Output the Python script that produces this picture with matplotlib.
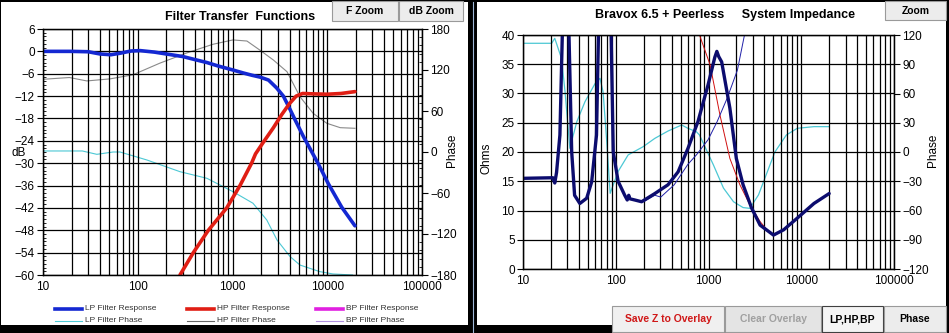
import matplotlib.pyplot as plt
import matplotlib.ticker as mticker
from matplotlib.patches import Rectangle
from matplotlib.lines import Line2D

plt.rcParams['font.family'] = ['Liberation Sans', 'DejaVu Sans']

# ---- left chart: filter transfer functions ----
lp_freq = [10, 20, 30, 40, 52, 65, 85, 106, 150, 200, 300, 400, 537, 700, 1010, 1300,
           1600, 1950, 2400, 2920, 3440, 3880, 4500, 5590, 8050, 10260, 14200, 19600]
lp_db = [0, 0, -0.1, -0.7, -0.9, -0.5, 0.1, 0.2, -0.2, -0.7, -1.4, -2.2, -3.0, -3.9, -5.0, -5.8,
         -6.4, -6.9, -7.7, -9.8, -12.0, -14.6, -18.0, -22.8, -30.2, -35.5, -41.8, -46.8]

hp_freq = [279, 386, 556, 869, 1200, 1590, 1750, 2100, 2700, 3300, 4000, 4700, 5500, 7000,
           10000, 14000, 19600]
hp_db = [-60, -54, -48, -42, -36, -30, -27.5, -24.5, -20.5, -17.0, -14.0, -12.0, -11.3, -11.4,
         -11.5, -11.3, -10.8]

lp_ph_freq = [10, 20, 26, 37, 55, 65, 125, 279, 537, 1010, 1645, 2300, 2950, 4050, 5150,
              8300, 11500, 18500]
lp_ph = [1.5, 1.5, 1.5, -3.4, 0, 0, -11.7, -28.8, -38.5, -58, -75, -99.5, -128.8, -153,
         -165.4, -175, -178.5, -180]

hp_ph_freq = [10, 19, 29, 51, 89, 171, 330, 620, 1010, 1420, 1950, 2700, 3760, 5150, 7100,
              9900, 13700, 19600]
hp_ph = [106.4, 109, 104, 107, 113, 130, 145, 157.6, 164, 162.4, 149, 134.6, 117.5, 81,
         56.6, 42, 35.6, 34.7]

# ---- right chart: system impedance ----
z_freq = [10, 21, 22, 23, 25, 27, 29, 30.8, 33.5, 36, 41, 48.6, 55, 62, 66, 72, 80, 88, 94,
          106, 125, 133, 138, 142, 160, 190, 264, 366, 470, 600, 770, 990, 1170, 1230, 1290,
          1387, 1700, 1995, 2360, 2920, 3600, 5020, 6460, 9060, 13700, 20000]
z_ohm = [15.5, 15.6, 14.7, 16.5, 22.9, 45, 60, 45, 20, 12.6, 11.2, 12.1, 14.9, 22.9, 45, 60,
         60, 45, 20, 15, 12.6, 11.8, 12.6, 12.0, 11.8, 11.5, 12.9, 14.4, 16.6, 20.6, 25.2,
         31.5, 36.2, 37.2, 36.3, 35.4, 27.5, 18.9, 14.4, 10.4, 7.5, 5.8, 6.7, 8.7, 11.2, 12.9]

zthin_freq = [200, 264, 306, 427, 600, 740, 990, 1240, 1590, 2050, 2400, 2600]
zthin_ohm = [11.5, 12.6, 12.3, 14.4, 17.9, 19.5, 22.1, 25.2, 29.2, 34.0, 39.4, 42]

zred_freq = [760, 800, 1040, 1330, 1700, 2180, 2790, 3600, 4580, 5200, 6460, 9060, 13700, 20000]
zred_ohm = [42, 40, 34.9, 26.3, 18.9, 14.4, 11.0, 8.1, 6.1, 5.8, 6.7, 8.7, 11.2, 12.9]

zph_freq = [10, 20.4, 22, 26, 28.4, 32, 38, 46.6, 60, 67.6, 73, 80, 87, 106, 136, 197, 264,
            366, 514, 600, 740, 800, 1130, 1450, 1860, 2360, 2790, 3460, 4320, 5200, 6900,
            9060, 13700, 20000]
zph_deg = [111.5, 111.5, 116.6, 96, 61.8, 3.8, 31, 51.6, 70.4, 75.6, 61.8, 10.6, -42.4, -20,
           -3, 5.4, 14, 21.5, 27.7, 24.3, 20.8, 17.4, -13.3, -37, -51, -57, -57.8, -44, -20,
           0, 17.4, 24.3, 26, 26]

W, H = 949, 333


def fx(x):
    return x / W


def fy(y):
    return 1 - y / H


def button(fig, x0, y0, x1, y1, text, color='black', fc='#ececec', ec='#9a9a9a'):
    fig.patches.append(Rectangle((fx(x0), fy(y1)), (x1 - x0) / W, (y1 - y0) / H,
                                 transform=fig.transFigure, facecolor=fc, edgecolor=ec,
                                 lw=0.8, zorder=2))
    fig.text(fx((x0 + x1) / 2), fy((y0 + y1) / 2), text, ha='center', va='center',
             fontsize=7.5, fontweight='bold', color=color, zorder=3)


def style_freq_axis(ax):
    ax.set_xscale('log')
    ax.set_xlim(10, 100000)
    ax.xaxis.set_major_locator(mticker.LogLocator(base=10))
    ax.xaxis.set_minor_locator(mticker.LogLocator(base=10, subs=range(2, 10)))
    ax.xaxis.set_major_formatter(mticker.FuncFormatter(lambda v, p: f'{v:.0f}'))
    ax.xaxis.set_minor_formatter(mticker.NullFormatter())
    ax.tick_params(axis='x', which='both', length=0, pad=4, labelsize=8.5)
    ax.xaxis.grid(True, which='both', color='black', lw=0.9)
    ax.yaxis.grid(True, which='major', color='black', lw=0.9)
    for s in ax.spines.values():
        s.set_color('black')
        s.set_linewidth(1.0)


fig = plt.figure(figsize=(W / 100, H / 100), dpi=100, facecolor='black')

# white panels and separator (behind the axes)
fig.patches.append(Rectangle((fx(1), fy(325)), 467 / W, 323 / H, transform=fig.transFigure,
                             facecolor='white', edgecolor='none', zorder=-2))
fig.patches.append(Rectangle((fx(477), fy(325)), 469 / W, 323 / H, transform=fig.transFigure,
                             facecolor='white', edgecolor='none', zorder=-2))
fig.lines.append(Line2D([fx(472.5), fx(472.5)], [fy(2), fy(333)], transform=fig.transFigure,
                        color='#9fb8d8', lw=0.8, zorder=-1))

# ---------- left chart ----------
ax1 = fig.add_axes([fx(43), fy(275), 379 / W, 246 / H])
ax1b = ax1.twinx()
ax1.set_zorder(ax1b.get_zorder() + 1)
ax1.patch.set_visible(False)
style_freq_axis(ax1)
ax1.set_ylim(-60, 6)
ax1.set_yticks(range(-60, 7, 6))
ax1.yaxis.set_minor_locator(mticker.MultipleLocator(1))
ax1.tick_params(axis='y', which='major', direction='out', length=4, labelsize=8.5, pad=2)
ax1.tick_params(axis='y', which='minor', direction='in', length=2)
ax1b.set_ylim(-180, 180)
ax1b.set_yticks(range(-180, 181, 60))
ax1b.yaxis.set_minor_locator(mticker.MultipleLocator(12))
ax1b.tick_params(axis='y', which='major', direction='out', length=4, labelsize=8.5, pad=2)
ax1b.tick_params(axis='y', which='minor', direction='in', length=2)

ax1b.plot(lp_ph_freq, lp_ph, color='#4cc8d4', lw=0.8)
ax1b.plot(hp_ph_freq, hp_ph, color='#8a8a8a', lw=0.8)
ax1.plot(lp_freq, lp_db, color='#1428d2', lw=2.6, solid_capstyle='round')
ax1.plot(hp_freq, hp_db, color='#e01e14', lw=2.6, solid_capstyle='round')

fig.text(fx(12), fy(153), 'dB', fontsize=8.5, ha='left', va='center')
fig.text(fx(452), fy(150), 'Phase', fontsize=8.5, rotation=90, ha='center', va='center')
fig.text(fx(240), fy(17), 'Filter Transfer  Functions', fontsize=9, fontweight='bold',
         ha='center', va='center')
button(fig, 332, 1, 398, 21, 'F Zoom')
button(fig, 399, 1, 463, 21, 'dB Zoom')

# legend
legend_items = [
    (55, 309, '#1428d2', 2.6, 'LP Filter Response'),
    (187, 309, '#e01e14', 2.6, 'HP Filter Response'),
    (316, 309, '#e020e0', 2.6, 'BP Filter Response'),
    (55, 321, '#4cc8d4', 0.8, 'LP Filter Phase'),
    (187, 321, '#666666', 0.8, 'HP Filter Phase'),
    (316, 321, '#b090e0', 0.8, 'BP Filter Phase'),
]
for x0, y0, col, lw, lab in legend_items:
    fig.lines.append(Line2D([fx(x0), fx(x0 + 27)], [fy(y0), fy(y0)], transform=fig.transFigure,
                            color=col, lw=lw))
    fig.text(fx(x0 + 30), fy(y0), lab, fontsize=6, color='#333333', ha='left', va='center')

# ---------- right chart ----------
ax2 = fig.add_axes([fx(523), fy(269), 371 / W, 234 / H])
ax2b = ax2.twinx()
ax2.set_zorder(ax2b.get_zorder() + 1)
ax2.patch.set_visible(False)
style_freq_axis(ax2)
ax2.set_ylim(0, 40)
ax2.set_yticks(range(0, 41, 5))
ax2.tick_params(axis='y', direction='out', length=4, labelsize=8.5, pad=2)
ax2b.set_ylim(-120, 120)
ax2b.set_yticks(range(-120, 121, 30))
ax2b.tick_params(axis='y', direction='out', length=4, labelsize=8.5, pad=2)

ax2b.plot(zph_freq, zph_deg, color='#4cc8d4', lw=0.9)
ax2.plot(zred_freq, zred_ohm, color='#d01010', lw=0.7)
ax2.plot(zthin_freq, zthin_ohm, color='#2020a8', lw=0.7)
ax2.plot(z_freq, z_ohm, color='#0c0c6e', lw=2.4, solid_capstyle='round')

fig.text(fx(487), fy(158), 'Ohms', fontsize=8.5, rotation=90, ha='center', va='center')
fig.text(fx(933), fy(150), 'Phase', fontsize=8.5, rotation=90, ha='center', va='center')
fig.text(fx(725), fy(15), 'Bravox 6.5 + Peerless     System Impedance', fontsize=9,
         fontweight='bold', ha='center', va='center')
button(fig, 885, 1, 946, 20, 'Zoom')
button(fig, 612, 306, 724, 332, 'Save Z to Overlay', color='#d01818', fc='#f0f0f0')
button(fig, 725, 306, 821, 332, 'Clear Overlay', color='#a0a0a0', fc='#e4e4e4')
button(fig, 822, 306, 883, 332, 'LP,HP,BP', fc='#f4f4f4', ec='#404040')
button(fig, 884, 306, 946, 332, 'Phase', fc='#ececec')

fig.savefig('out.png', dpi=100, facecolor='black')
